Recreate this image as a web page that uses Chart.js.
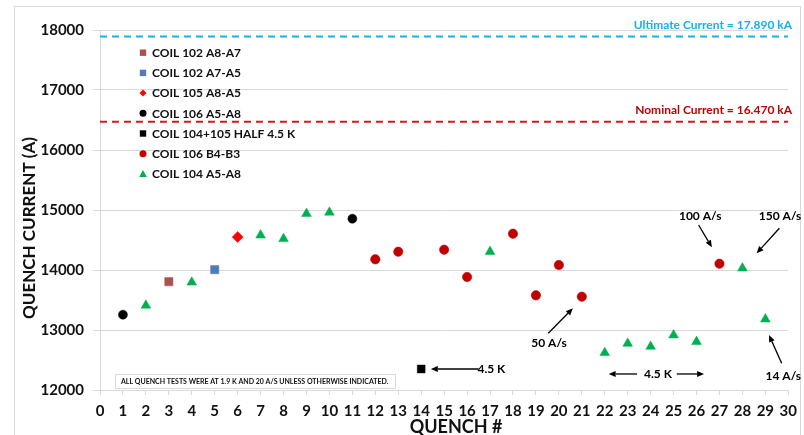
<!DOCTYPE html>
<html>
<head>
<meta charset="utf-8">
<script src="https://cdn.jsdelivr.net/npm/chart.js@4/dist/chart.umd.min.js"></script>
<style>
  html, body { margin: 0; padding: 0; background: #fff; }
  #wrap { width: 804px; height: 435px; }
</style>
</head>
<body>
<div id="wrap"><canvas id="chart" width="804" height="435"></canvas></div>
<script>
// quench #, quench current (A)
const coil102A8A7 = [[3, 13805]];
const coil102A7A5 = [[5, 14005]];
const coil105A8A5 = [[6, 14550]];
const coil106A5A8 = [[1, 13255], [11, 14855]];
const coil104105Half = [[14, 12350]];
const coil106B4B3 = [[12, 14178], [13, 14305], [15, 14338], [16, 13883], [18, 14605],
                     [19, 13578], [20, 14083], [21, 13555], [27, 14105]];
const coil104A5A8 = [[2, 13410], [4, 13795], [7, 14580], [8, 14520], [9, 14940], [10, 14960],
                     [17, 14305], [22, 12620], [23, 12775], [24, 12725], [25, 12915], [26, 12805],
                     [28, 14030], [29, 13180]];

const ultimateCurrent = 17890;
const nominalCurrent = 16470;
const xTicks = { min: 0, max: 30, step: 1 };
const yTicks = { min: 12000, max: 18000, step: 1000 };

const FONT = 'Lato, "Open Sans", "Liberation Sans", sans-serif';

const series = [
  { label: 'COIL 102 A8-A7', data: coil102A8A7, color: '#B0504E', style: 'rect', r: 5.8 },
  { label: 'COIL 102 A7-A5', data: coil102A7A5, color: '#4F7CB8', style: 'rect', r: 5.8 },
  { label: 'COIL 105 A8-A5', data: coil105A8A5, color: '#FF0000', style: 'rectRot', r: 5.5 },
  { label: 'COIL 106 A5-A8', data: coil106A5A8, color: '#000000', style: 'circle', r: 4.5 },
  { label: 'COIL 104+105 HALF 4.5 K', data: coil104105Half, color: '#000000', style: 'rect', r: 5.5 },
  { label: 'COIL 106 B4-B3', data: coil106B4B3, color: '#C00000', style: 'circle', r: 4.7 },
  { label: 'COIL 104 A5-A8', data: coil104A5A8, color: '#00B050', style: 'triangle', r: 5.6 }
];

// annotation texts and arrows, in data coordinates
const notes = [
  { text: '100 A/s', x: 26.16, y: 14900, from: [26.09, 14750], to: [26.67, 14378] },
  { text: '150 A/s', x: 29.64, y: 14900, from: [29.61, 14695], to: [28.62, 14278] },
  { text: '50 A/s', x: 19.57, y: 12788, from: [19.54, 12945], to: [20.61, 13362] },
  { text: '14 A/s', x: 29.78, y: 12238, from: [29.71, 12445], to: [29.16, 12917] },
  { text: '4.5 K', x: 24.32, y: 12267, from: [23.41, 12267], to: [22.17, 12267] },
  { text: null, from: [25.14, 12267], to: [26.33, 12267] },
  { text: '4.5 K', x: 16.45, y: 12353, left: true, from: [16.5, 12350], to: [14.42, 12350] }
];

const datasets = series.map(s => ({
  type: 'scatter',
  label: s.label,
  data: s.data.map(p => ({ x: p[0], y: p[1] })),
  pointStyle: s.style,
  pointRadius: s.r,
  pointBackgroundColor: s.color,
  pointBorderColor: s.color,
  pointBorderWidth: 0.5
}));

datasets.push({
  type: 'line', label: 'ultimate',
  data: [{ x: xTicks.min, y: ultimateCurrent }, { x: xTicks.max, y: ultimateCurrent }],
  borderColor: '#12B2EE', borderWidth: 2, borderDash: [7, 5], pointRadius: 0
});
datasets.push({
  type: 'line', label: 'nominal',
  data: [{ x: xTicks.min, y: nominalCurrent }, { x: xTicks.max, y: nominalCurrent }],
  borderColor: '#E0141E', borderWidth: 2, borderDash: [7, 5], pointRadius: 0
});

function marker(ctx, style, x, y, r, color) {
  ctx.save();
  ctx.fillStyle = color;
  ctx.beginPath();
  if (style === 'rect') ctx.rect(x - r, y - r, 2 * r, 2 * r);
  else if (style === 'circle') ctx.arc(x, y, r, 0, Math.PI * 2);
  else if (style === 'rectRot') { ctx.moveTo(x, y - r); ctx.lineTo(x + r, y); ctx.lineTo(x, y + r); ctx.lineTo(x - r, y); }
  else if (style === 'triangle') { ctx.moveTo(x, y - r); ctx.lineTo(x + r, y + r * 0.8); ctx.lineTo(x - r, y + r * 0.8); }
  ctx.closePath();
  ctx.fill();
  ctx.restore();
}

function arrow(ctx, x1, y1, x2, y2) {
  const a = Math.atan2(y2 - y1, x2 - x1), h = 7, w = 3;
  ctx.beginPath();
  ctx.moveTo(x1, y1);
  ctx.lineTo(x2 - Math.cos(a) * h, y2 - Math.sin(a) * h);
  ctx.stroke();
  ctx.beginPath();
  ctx.moveTo(x2, y2);
  ctx.lineTo(x2 - Math.cos(a) * h + Math.sin(a) * w, y2 - Math.sin(a) * h - Math.cos(a) * w);
  ctx.lineTo(x2 - Math.cos(a) * h - Math.sin(a) * w, y2 - Math.sin(a) * h + Math.cos(a) * w);
  ctx.closePath();
  ctx.fill();
}

const extras = {
  id: 'extras',
  beforeDraw(chart) {
    const ctx = chart.ctx;
    ctx.save();
    ctx.fillStyle = '#fff';
    ctx.fillRect(0, 0, chart.width, chart.height);
    ctx.strokeStyle = '#D9D9D9';
    ctx.lineWidth = 1;
    ctx.strokeRect(14.5, 6.5, 786, 440);
    ctx.restore();
  },
  afterDatasetsDraw(chart) {
    const ctx = chart.ctx, xs = chart.scales.x, ys = chart.scales.y;
    ctx.save();

    // reference line labels
    ctx.font = 'bold 12px ' + FONT;
    ctx.textAlign = 'right';
    ctx.textBaseline = 'middle';
    ctx.fillStyle = '#12B2EE';
    ctx.fillText('Ultimate Current = 17.890 kA', 792, ys.getPixelForValue(ultimateCurrent) - 11);
    ctx.fillStyle = '#C00000';
    ctx.fillText('Nominal Current = 16.470 kA', 792, ys.getPixelForValue(nominalCurrent) - 12);

    // legend
    ctx.textAlign = 'left';
    series.forEach((s, i) => {
      const y = 52.7 + i * 20.2;
      const mr = s.style === 'circle' ? 3.5 : s.style === 'rect' ? 3.2 : s.style === 'rectRot' ? 3.5 : 3.8;
      marker(ctx, s.style, 143, y, mr, s.color);
      ctx.fillStyle = '#111';
      ctx.font = 'bold 12px ' + FONT;
      ctx.fillText(s.label, 152, y + 0.5);
    });

    // annotations
    ctx.strokeStyle = '#000';
    ctx.fillStyle = '#000';
    ctx.lineWidth = 1.3;
    notes.forEach(n => {
      if (n.from) arrow(ctx, xs.getPixelForValue(n.from[0]), ys.getPixelForValue(n.from[1]),
                        xs.getPixelForValue(n.to[0]), ys.getPixelForValue(n.to[1]));
      if (n.text) {
        ctx.font = 'bold 12px ' + FONT;
        ctx.textAlign = n.left ? 'left' : 'center';
        ctx.fillText(n.text, xs.getPixelForValue(n.x), ys.getPixelForValue(n.y));
      }
    });

    // footnote box
    ctx.fillStyle = '#fff';
    ctx.fillRect(115, 374, 280, 14);
    ctx.strokeStyle = '#D9D9D9';
    ctx.lineWidth = 1;
    ctx.strokeRect(115.5, 374.5, 280, 14);
    ctx.fillStyle = '#111';
    ctx.font = 'bold 7px ' + FONT;
    ctx.textAlign = 'left';
    ctx.fillText('ALL QUENCH TESTS WERE AT 1.9 K AND 20 A/S UNLESS OTHERWISE INDICATED.', 121, 381.5);

    // axis titles
    ctx.font = 'bold 18px ' + FONT;
    ctx.textAlign = 'center';
    ctx.fillText('QUENCH #', 456, 427);
    ctx.translate(30, 228);
    ctx.rotate(-Math.PI / 2);
    ctx.font = 'bold 17px ' + FONT;
    ctx.fillText('QUENCH CURRENT (A)', 0, 0);
    ctx.restore();
  }
};

new Chart(document.getElementById('chart').getContext('2d'), {
  data: { datasets },
  plugins: [extras],
  options: {
    responsive: false,
    devicePixelRatio: 1,
    animation: false,
    layout: { padding: { left: 0, top: 30, right: 14, bottom: 0 } },
    plugins: { legend: { display: false }, tooltip: { enabled: false } },
    scales: {
      x: {
        type: 'linear',
        min: xTicks.min, max: xTicks.max,
        afterFit: s => { s.height = 45; },
        ticks: { stepSize: xTicks.step, color: '#111', font: { family: FONT, size: 15, weight: 'bold' }, padding: 7, maxRotation: 0, autoSkip: false },
        grid: { drawOnChartArea: false, drawTicks: true, tickLength: 5, color: '#D9D9D9' },
        border: { color: '#D9D9D9' }
      },
      y: {
        min: yTicks.min, max: yTicks.max,
        afterFit: s => { s.width = 100; },
        ticks: { stepSize: yTicks.step, color: '#111', font: { family: FONT, size: 15, weight: 'bold' }, padding: 9,
                 callback: v => String(v) },
        grid: { color: '#D9D9D9', tickLength: 7 },
        border: { color: '#D9D9D9' }
      }
    }
  }
});
</script>
</body>
</html>
